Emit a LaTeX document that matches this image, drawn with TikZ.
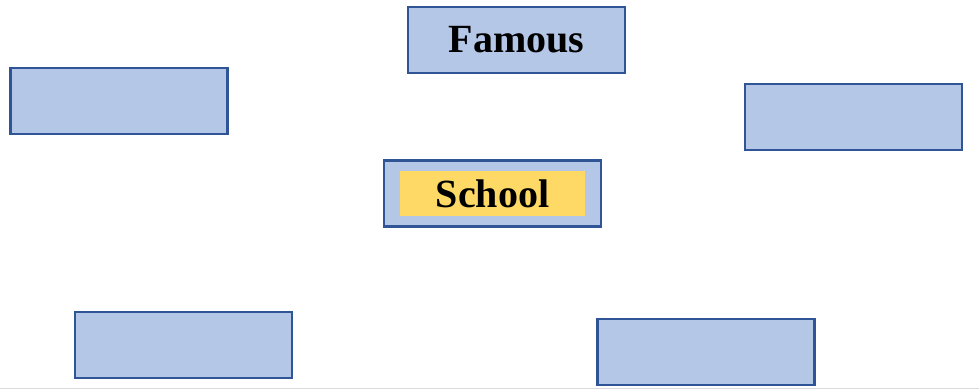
\documentclass[tikz,border=0pt]{standalone}
\usepackage{fontspec}
\setmainfont{Liberation Serif}
\definecolor{boxfill}{HTML}{B4C7E7}
\definecolor{boxline}{HTML}{2F5597}
\definecolor{yel}{HTML}{FFD966}
\definecolor{edge}{HTML}{D9D9D9}
\tikzset{
  bbox/.style={draw=boxline, fill=boxfill, line width=2.8pt, minimum width=217pt, minimum height=66pt, inner sep=0pt},
  ybox/.style={fill=yel, minimum width=185pt, minimum height=45pt, inner sep=0pt},
  lbl/.style={font=\fontsize{40}{42}\selectfont\bfseries}
}
\begin{document}
\begin{tikzpicture}[x=1pt,y=-1pt]
\useasboundingbox (0,0) rectangle (979,390);
\coordinate (bl) at (0,388.5);
\coordinate (br) at (979,388.5);
\draw[edge, line width=1pt] (bl) -- (br);
\node[bbox] (famous) at (516.5,40) {};
\node[lbl] (famoust) at (famous.center) {Famous};
\node[bbox] (lt) at (119,101) {};
\node[bbox] (rt) at (853.5,117) {};
\node[bbox] (school) at (492.5,193.5) {};
\node[ybox] (schoolin) at (school.center) {};
\node[lbl] (schoolt) at (school.center) {School};
\node[bbox] (lb) at (183.5,345) {};
\node[bbox] (rb) at (706,352) {};
\end{tikzpicture}
\end{document}
